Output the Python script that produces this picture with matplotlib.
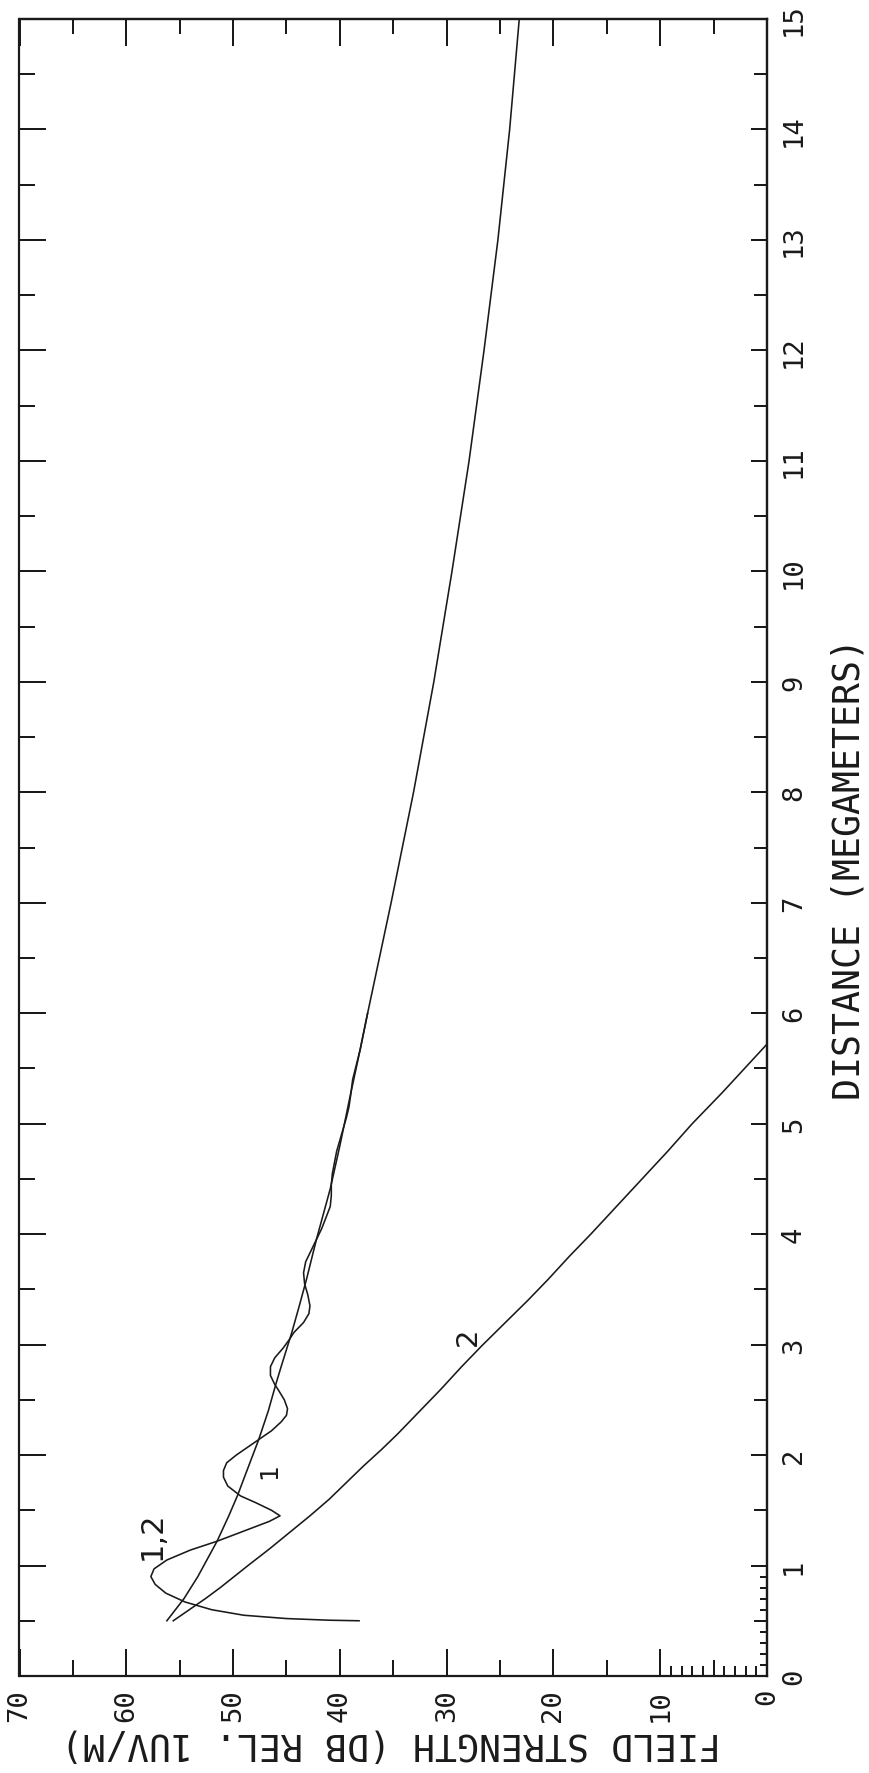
import numpy as np
import matplotlib
matplotlib.use("Agg")
import matplotlib.pyplot as plt
from matplotlib.ticker import FixedLocator, NullFormatter

# curve "1,2": field strength (dB rel. 1 uV/m) vs distance (Mm)
dist_12 = [0.5, 0.7, 0.9, 1.22, 1.45, 1.63, 1.86, 2.14, 2.4, 2.64, 2.8, 3.11, 3.35,
           3.6, 3.95, 4.41, 4.8, 5.22, 5.67, 6.0, 7.0, 8.0, 9.0, 10.0, 11.0, 12.0,
           13.0, 14.0, 15.0]
field_12 = [56.2, 54.6, 53.3, 51.5, 50.4, 49.6, 48.7, 47.6, 46.7, 46.0, 45.5, 44.5, 43.8,
            43.1, 42.2, 40.9, 40.0, 39.1, 38.1, 37.4, 35.2, 33.1, 31.2, 29.5, 27.9, 26.5,
            25.2, 24.1, 23.2]

# curve "1": oscillates about "1,2" near the source and merges with it beyond ~5 Mm
dist_1 = [0.50, 0.505, 0.52, 0.55, 0.60, 0.67, 0.75, 0.83, 0.90, 0.97, 1.05, 1.14,
          1.22, 1.33, 1.40, 1.45, 1.50, 1.57, 1.63, 1.72, 1.80, 1.86, 1.93, 2.00,
          2.08, 2.14, 2.22, 2.30, 2.36, 2.42, 2.50, 2.58, 2.64, 2.72, 2.80, 2.88,
          2.97, 3.05, 3.11, 3.20, 3.28, 3.35, 3.45, 3.55, 3.65, 3.75, 3.85, 3.95,
          4.05, 4.15, 4.25, 4.35, 4.45, 4.55, 4.65, 4.75, 4.85, 4.95, 5.05, 5.15,
          5.25, 5.40, 5.67, 6.0]
field_1 = [38.2, 41.0, 45.0, 49.0, 52.0, 54.5, 56.3, 57.3, 57.7, 57.4, 56.2, 54.0,
           51.5, 48.5, 46.6, 45.6, 46.4, 47.9, 49.3, 50.5, 50.9, 50.9, 50.6, 49.7,
           48.5, 47.6, 46.4, 45.5, 45.0, 44.9, 45.2, 45.7, 46.1, 46.5, 46.5, 46.1,
           45.3, 44.7, 44.3, 43.4, 42.9, 42.8, 43.0, 43.3, 43.4, 43.2, 42.7, 42.2,
           41.7, 41.3, 40.9, 40.8, 40.8, 40.7, 40.5, 40.3, 40.0, 39.7, 39.4, 39.15,
           39.0, 38.8, 38.1, 37.4]

# curve "2"
dist_2 = [0.5, 0.6, 0.7, 0.8, 0.9, 1.0, 1.15, 1.3, 1.45, 1.6, 1.75, 1.9, 2.05, 2.19,
          2.4, 2.6, 2.8, 2.99, 3.2, 3.4, 3.59, 3.8, 4.0, 4.25, 4.5, 4.75, 5.0, 5.28,
          5.5, 5.72]
field_2 = [55.6, 54.1, 52.6, 51.2, 49.9, 48.6, 46.6, 44.7, 42.8, 41.0, 39.4, 37.8, 36.1,
           34.6, 32.5, 30.5, 28.6, 26.7, 24.5, 22.4, 20.5, 18.5, 16.5, 14.1, 11.7, 9.3,
           7.0, 4.2, 2.1, 0.0]

field_major = [0, 10, 20, 30, 40, 50, 60, 70]
field_minor = [5, 15, 25, 35, 45, 55, 65]
field_fine = [1, 2, 3, 4, 6, 7, 8, 9]
dist_major = list(range(0, 16))
dist_minor = [k + 0.5 for k in range(15)]
dist_fine = [0.1, 0.2, 0.3, 0.4, 0.6, 0.7, 0.8, 0.9]

plt.rcParams['font.family'] = ['DejaVu Sans Mono', 'DejaVu Sans']
ink = '#1a1a1a'
W, H, DPI = 870, 1774, 100
px = 72.0 / DPI  # points per pixel

fig = plt.figure(figsize=(W / DPI, H / DPI), dpi=DPI)
x0, x1, y_top, y_bot = 19.5, 767.0, 20.0, 1677.0
ax = fig.add_axes([x0 / W, (H - y_bot) / H, (x1 - x0) / W, (y_bot - y_top) / H])

for f, d in [(field_12, dist_12), (field_1, dist_1), (field_2, dist_2)]:
    ax.plot(f, d, color=ink, lw=1.6 * px, solid_joinstyle='round')

ax.set_xlim(70, 0)
ax.set_ylim(0, 15)
for s in ax.spines.values():
    s.set_linewidth(2.2 * px)
    s.set_color(ink)

# bottom: field strength scale
ax.xaxis.set_major_locator(FixedLocator(field_major))
ax.xaxis.set_minor_locator(FixedLocator(field_minor))
ax.set_xticklabels([str(v) for v in field_major], rotation=90, fontsize=19.5)
ax.tick_params(axis='x', which='major', direction='in', length=27 * px, width=2 * px,
               pad=12 * px, color=ink, labelcolor=ink)
ax.tick_params(axis='x', which='minor', direction='in', length=16 * px, width=2 * px, color=ink)
ax.vlines(field_fine, 0, 10 / (y_bot - y_top), transform=ax.get_xaxis_transform(),
          color=ink, lw=2 * px)

# left: distance ticks without labels
ax.yaxis.set_major_locator(FixedLocator(dist_major))
ax.yaxis.set_minor_locator(FixedLocator(dist_minor))
ax.yaxis.set_major_formatter(NullFormatter())
ax.tick_params(axis='y', which='major', direction='in', length=27 * px, width=2 * px, color=ink)
ax.tick_params(axis='y', which='minor', direction='in', length=16 * px, width=2 * px, color=ink)

# top: field strength ticks only
top = ax.secondary_xaxis('top')
top.xaxis.set_major_locator(FixedLocator(field_major))
top.xaxis.set_minor_locator(FixedLocator(field_minor))
top.xaxis.set_major_formatter(NullFormatter())
top.tick_params(which='major', direction='in', length=27 * px, width=2 * px, color=ink)
top.tick_params(which='minor', direction='in', length=15 * px, width=2 * px, color=ink)
top.spines['top'].set_linewidth(2.2 * px)

# right: distance scale with labels
right = ax.secondary_yaxis('right')
right.yaxis.set_major_locator(FixedLocator(dist_major))
right.yaxis.set_minor_locator(FixedLocator(dist_minor))
right.set_yticks(dist_major, [str(v) for v in dist_major])
for lab in right.get_yticklabels():
    lab.set_rotation(90)
    lab.set_fontsize(19.5)
    lab.set_color(ink)
    lab.set_va('center')
right.tick_params(which='major', direction='in', length=16 * px, width=2 * px,
                  pad=14 * px, color=ink)
right.tick_params(which='minor', direction='in', length=13 * px, width=2 * px, color=ink)
right.spines['right'].set_linewidth(2.2 * px)
ax.hlines(dist_fine, 1 - 7 / (x1 - x0), 1, transform=ax.get_yaxis_transform(),
          color=ink, lw=2 * px)

# axis titles
fig.text(849 / W, 1 - 869 / H, 'DISTANCE (MEGAMETERS)', rotation=90,
         ha='center', va='center', fontsize=26.3, color=ink)
fig.text(391 / W, 1 - 1744 / H, 'FIELD STRENGTH (DB REL. 1UV/M)', rotation=180,
         ha='center', va='center', fontsize=26.3, color=ink)

# curve labels
ax.text(57.6, 1.28, '1,2', rotation=90, ha='center', va='center', fontsize=22,
        family='DejaVu Sans', color=ink)
ax.text(46.6, 1.86, '1', rotation=90, ha='center', va='center', fontsize=18,
        family='DejaVu Sans', color=ink)
ax.text(28.0, 3.08, '2', rotation=90, ha='center', va='center', fontsize=21,
        family='DejaVu Sans', color=ink)

fig.savefig('out.png', dpi=DPI, facecolor='white')
